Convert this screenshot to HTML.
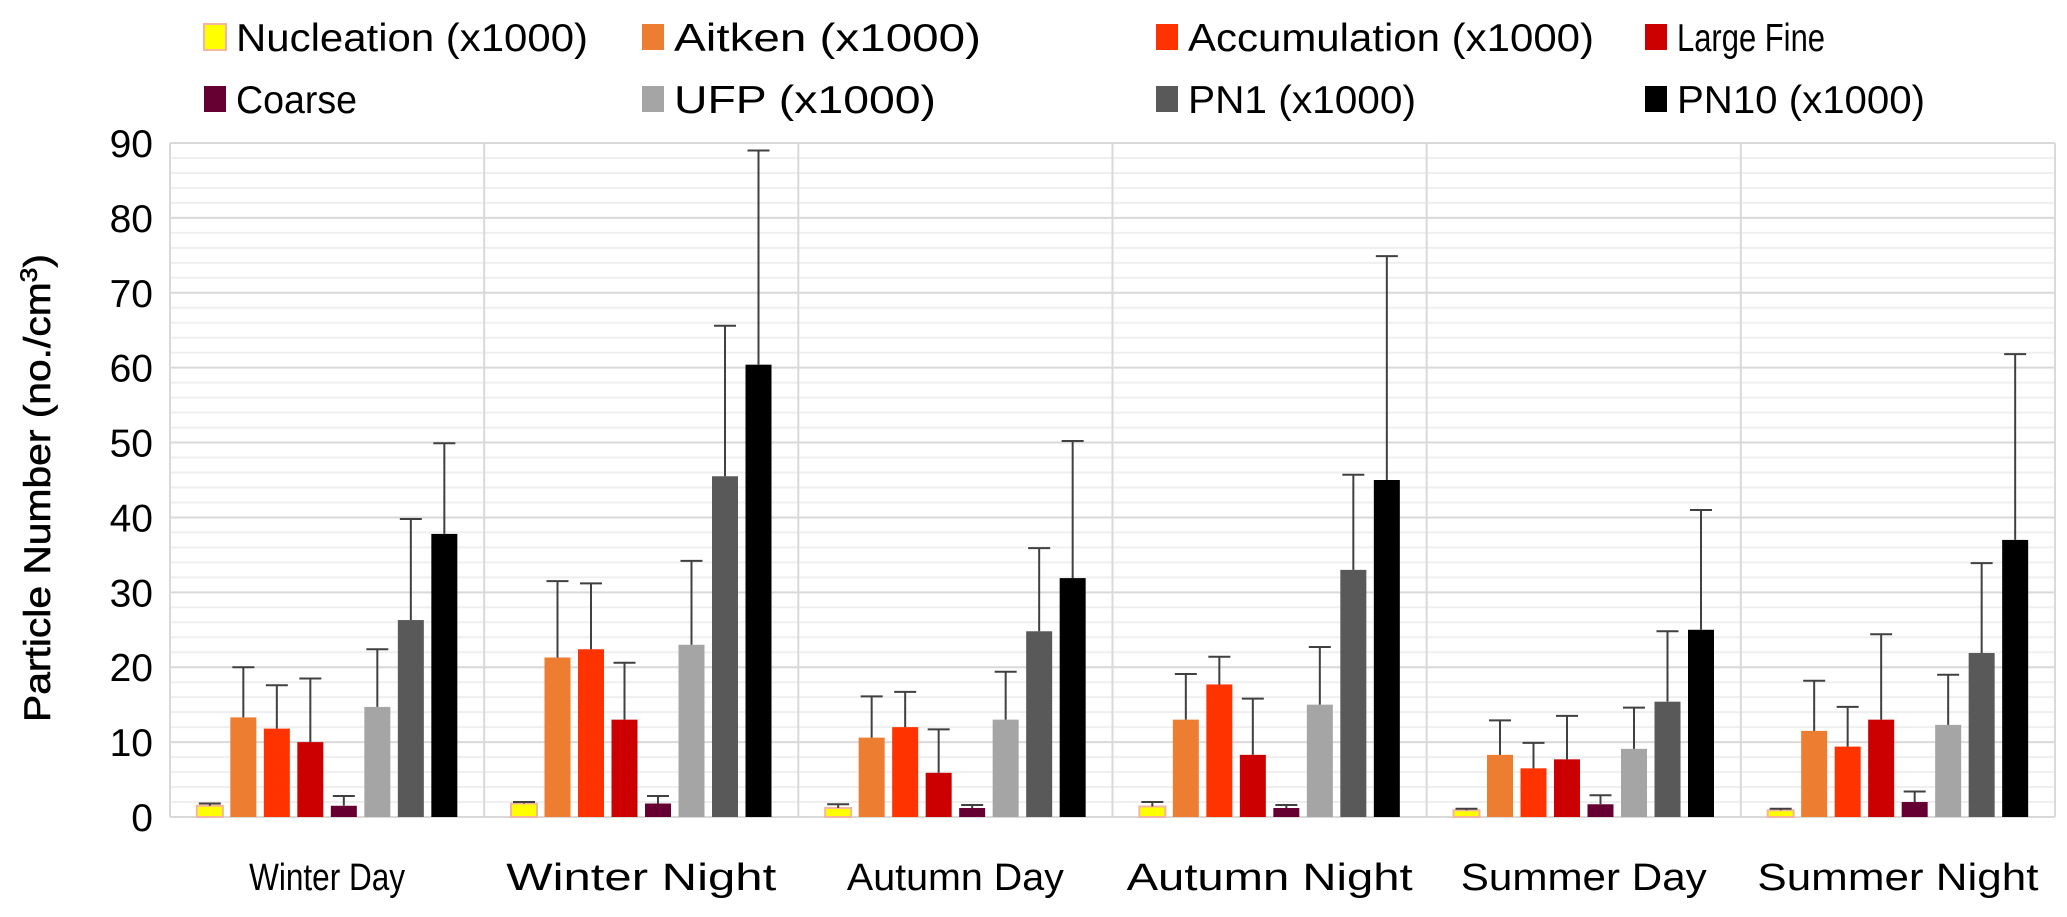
<!DOCTYPE html>
<html><head><meta charset="utf-8"><style>
html,body{margin:0;padding:0;background:#fff;}
svg{display:block;font-family:"Liberation Sans",sans-serif;}
</style></head><body>
<svg id="chart" width="2067" height="917" viewBox="0 0 2067 917" xmlns="http://www.w3.org/2000/svg">
<g id="grid"></g>
<g id="bars"></g>
<g id="yaxis"></g>
<g id="xaxis"></g>
<text transform="translate(50,488) rotate(-90)" text-anchor="middle" font-size="37" fill="#000" stroke="#000" stroke-width="0.6" textLength="468" lengthAdjust="spacingAndGlyphs">Particle Number (no./cm<tspan font-size="24" dy="-13">3</tspan><tspan dy="13">)</tspan></text>
<g id="legend"></g>
</svg>
<script>
const categories = ["Winter Day","Winter Night","Autumn Day","Autumn Night","Summer Day","Summer Night"];
const seriesNames = ["Nucleation (x1000)","Aitken (x1000)","Accumulation (x1000)","Large Fine","Coarse","UFP (x1000)","PN1 (x1000)","PN10 (x1000)"];
const seriesColors = ["#ffff00","#ed7d31","#ff3300","#cc0000","#660033","#a5a5a5","#595959","#000000"];
const nucleation = [1.5,1.8,1.2,1.4,0.9,0.9];
const aitken = [13.3,21.3,10.6,13,8.3,11.5];
const accumulation = [11.8,22.4,12,17.7,6.5,9.4];
const largeFine = [10,13,5.9,8.3,7.7,13];
const coarse = [1.5,1.8,1.2,1.2,1.7,2];
const ufp = [14.7,23,13,15,9.1,12.3];
const pn1 = [26.3,45.5,24.8,33,15.4,21.9];
const pn10 = [37.8,60.4,31.9,45,25,37];
const nucleationErr = [1.8,2.0,1.7,2.0,1.1,1.1];
const aitkenErr = [20,31.5,16.1,19.1,12.9,18.2];
const accumulationErr = [17.6,31.2,16.7,21.4,9.9,14.7];
const largeFineErr = [18.5,20.6,11.7,15.8,13.5,24.4];
const coarseErr = [2.8,2.8,1.6,1.6,2.9,3.4];
const ufpErr = [22.4,34.2,19.4,22.7,14.6,19];
const pn1Err = [39.8,65.6,35.9,45.7,24.8,33.9];
const pn10Err = [49.9,89,50.2,74.9,41,61.8];
const yTicks = [0,10,20,30,40,50,60,70,80,90];

const series = [nucleation,aitken,accumulation,largeFine,coarse,ufp,pn1,pn10];
const errs = [nucleationErr,aitkenErr,accumulationErr,largeFineErr,coarseErr,ufpErr,pn1Err,pn10Err];
const catLabelWidths = [156,270,217,286,246,281];
const legendWidths = [352,307,406,148,121,262,228,248];
const NS="http://www.w3.org/2000/svg";
const L=170,R=2055,T=143,B=817,YMAX=90;
const y=v=>B-(v/YMAX)*(B-T);
const catW=(R-L)/categories.length;
const step=33.5,bw=26;
const x=(c,s)=>L+catW*c+catW/2+(s-(series.length-1)/2)*step;
function mk(tag,attrs,parent){const e=document.createElementNS(NS,tag);for(const k in attrs)e.setAttribute(k,attrs[k]);parent.appendChild(e);return e;}
const grid=document.getElementById('grid');
for(let v=0;v<=YMAX;v+=2){
  const l=mk('line',{x1:L,x2:R,y1:y(v),y2:y(v),stroke:(v%10===0)?'#d9d9d9':'#efefef','stroke-width':2},grid);
  
  
}
for(let c=0;c<=categories.length;c++){
  const l=mk('line',{x1:L+catW*c,x2:L+catW*c,y1:T,y2:B,stroke:'#d9d9d9','stroke-width':2},grid);
  
  
}
const ya=document.getElementById('yaxis');
yTicks.forEach(v=>{
  const t=mk('text',{x:153,y:y(v)+14,'text-anchor':'end','font-size':39,fill:'#000'},ya);
  t.textContent=v;
  
  
});
const xa=document.getElementById('xaxis');
categories.forEach((c,i)=>{
  const t=mk('text',{x:L+catW*i+catW/2,y:890,'text-anchor':'middle','font-size':38,fill:'#000',textLength:catLabelWidths[i],lengthAdjust:'spacingAndGlyphs'},xa);
  t.textContent=c;
  
  
});
const bars=document.getElementById('bars');
series.forEach((arr,s)=>{
  arr.forEach((v,c)=>{
    const cx=x(c,s);
    const r=mk('rect',{x:cx-bw/2,y:y(v),width:bw,height:B-y(v),fill:seriesColors[s]},bars);
    if(s===0){r.setAttribute('stroke','#f4b6a0');r.setAttribute('stroke-width','2');}
    
    
    const e=errs[s][c];
    const el=mk('path',{d:`M${cx},${y(v)}V${y(e)}M${cx-11},${y(e)}H${cx+11}`,stroke:'#404040','stroke-width':2,fill:'none'},bars);
    
    
  });
});
const lg=document.getElementById('legend');
const lx=[204,642,1156,1645], ly=[37,99];
seriesNames.forEach((n,i)=>{
  const gx=lx[i%4], gy=ly[Math.floor(i/4)];
  const g=mk('g',{},lg);
  
  
  mk('rect',{x:gx,y:gy-13,width:22,height:26,fill:seriesColors[i],stroke:i===0?'#f4b6a0':'none','stroke-width':2},g);
  const t=mk('text',{x:gx+32,y:gy+14,'font-size':39,fill:'#000',textLength:legendWidths[i],lengthAdjust:'spacingAndGlyphs'},g);
  t.textContent=n;
});
</script>
</body></html>
